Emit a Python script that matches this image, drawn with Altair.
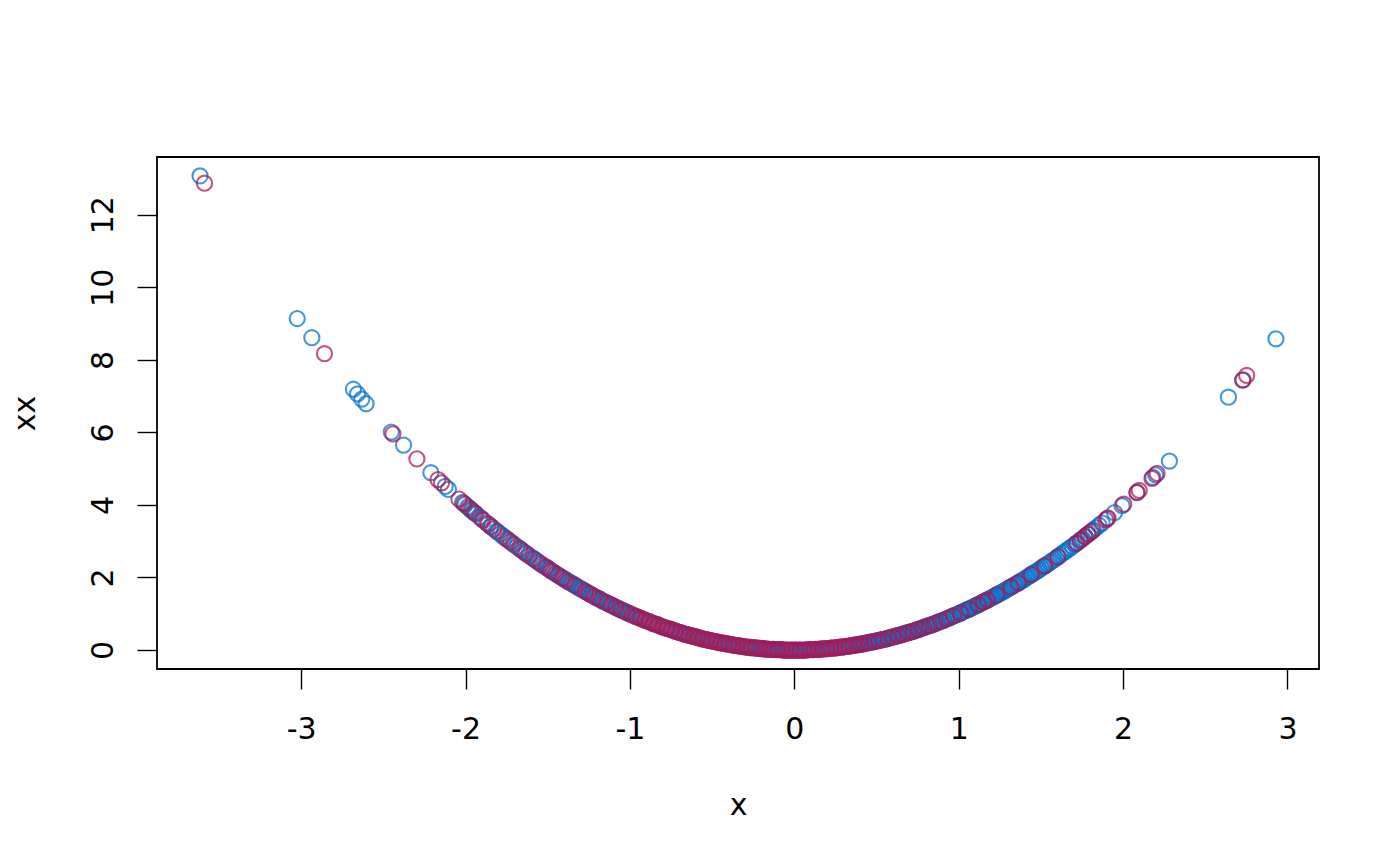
import altair as alt
import pandas as pd

# ---- data ----
blue_x = [-3.615, -3.024, -2.935, -2.682, -2.657, -2.631, -2.605, -2.452, -2.377, -2.211,
          -2.124, -2.104, -2.018, -2.003, -1.987, -1.968, -1.952, -1.936, -1.902, -1.871,
          -1.846, -1.812, -1.789, -1.762, -1.738, -1.712, -1.688, -1.663, -1.641, -1.618,
          -1.594, -1.571, -1.552, -1.528, -1.506, -1.487, -1.466, -1.443, -1.421, -1.402,
          -1.381, -1.362, -1.341, -1.322, -1.303, -1.284, -1.265, -1.246, -1.228, -1.209,
          -1.191, -1.172, -1.154, -1.136, -1.118, -1.099, -1.082, -1.064, -1.046, -1.028,
          -1.011, -0.993, -0.965, -0.938, -0.911, -0.883, -0.856, -0.829, -0.802, -0.775,
          -0.748, -0.721, -0.694, -0.667, -0.640, -0.613, -0.586, -0.559, -0.532, -0.505,
          -0.478, -0.451, -0.424, -0.397, -0.370, -0.343, -0.316, -0.289, -0.262, -0.235,
          -0.208, -0.181, -0.154, -0.127, -0.100, -0.073, -0.046, -0.019, 0.008, 0.035,
          0.062, 0.089, 0.116, 0.143, 0.170, 0.197, 0.224, 0.251, 0.278, 0.305,
          0.332, 0.359, 0.386, 0.413, 0.440, 0.467, 0.494, 0.521, 0.548, 0.575,
          0.602, 0.629, 0.656, 0.683, 0.710, 0.737, 0.764, 0.791, 0.818, 0.845,
          0.872, 0.899, 0.926, 0.953, 0.980, 1.004, 1.024, 1.043, 1.062, 1.081,
          1.100, 1.119, 1.138, 1.157, 1.176, 1.195, 1.214, 1.233, 1.252, 1.272,
          1.292, 1.312, 1.333, 1.354, 1.376, 1.398, 1.421, 1.444, 1.467, 1.491,
          1.515, 1.540, 1.566, 1.592, 1.619, 1.647, 1.676, 1.706, 1.737, 1.769,
          1.802, 1.836, 1.872, 1.905, 1.948, 1.994, 2.084, 2.181, 2.198, 2.282,
          2.641, 2.727, 2.930]
blue_xx = [13.07, 9.14, 8.61, 7.19, 7.06, 6.92, 6.79, 6.01, 5.65, 4.89,
           4.51, 4.43, 4.07, 4.01, 3.95, 3.87, 3.81, 3.75, 3.62, 3.50,
           3.41, 3.28, 3.20, 3.10, 3.02, 2.93, 2.85, 2.77, 2.69, 2.62,
           2.54, 2.47, 2.41, 2.33, 2.27, 2.21, 2.15, 2.08, 2.02, 1.97,
           1.91, 1.86, 1.80, 1.75, 1.70, 1.65, 1.60, 1.55, 1.51, 1.46,
           1.42, 1.37, 1.33, 1.29, 1.25, 1.21, 1.17, 1.13, 1.09, 1.06,
           1.02, 0.99, 0.93, 0.88, 0.83, 0.78, 0.73, 0.69, 0.64, 0.60,
           0.56, 0.52, 0.48, 0.44, 0.41, 0.38, 0.34, 0.31, 0.28, 0.26,
           0.23, 0.20, 0.18, 0.16, 0.14, 0.12, 0.10, 0.08, 0.07, 0.06,
           0.04, 0.03, 0.02, 0.02, 0.01, 0.01, 0.00, 0.00, 0.00, 0.00,
           0.00, 0.01, 0.01, 0.02, 0.03, 0.04, 0.05, 0.06, 0.08, 0.09,
           0.11, 0.13, 0.15, 0.17, 0.19, 0.22, 0.24, 0.27, 0.30, 0.33,
           0.36, 0.40, 0.43, 0.47, 0.50, 0.54, 0.58, 0.63, 0.67, 0.71,
           0.76, 0.81, 0.86, 0.91, 0.96, 1.01, 1.05, 1.09, 1.13, 1.17,
           1.21, 1.25, 1.30, 1.34, 1.38, 1.43, 1.47, 1.52, 1.57, 1.62,
           1.67, 1.72, 1.78, 1.83, 1.89, 1.95, 2.02, 2.09, 2.15, 2.22,
           2.30, 2.37, 2.45, 2.53, 2.62, 2.71, 2.81, 2.91, 3.02, 3.13,
           3.25, 3.37, 3.50, 3.63, 3.79, 3.98, 4.34, 4.76, 4.83, 5.21,
           6.97, 7.44, 8.58]

# further blue points in the crowded right-hand arm
blue_x2 = [0.400, 0.426, 0.453, 0.480, 0.507, 0.534, 0.561, 0.588, 0.615, 0.642,
           0.669, 0.697, 0.724, 0.751, 0.778, 0.805, 0.832, 0.859, 0.886, 0.913,
           0.940, 0.967, 0.992, 1.014, 1.033, 1.052, 1.071, 1.090, 1.109, 1.128,
           1.147, 1.166, 1.185, 1.204, 1.224, 1.243, 1.262, 1.282, 1.302, 1.322,
           1.343, 1.365, 1.387, 1.410, 1.432, 1.455, 1.479, 1.503, 1.528, 1.553,
           1.579, 1.605, 1.633, 1.661, 1.691, 1.721, 1.753, 1.785, 1.819, 1.854]
blue_xx2 = [0.16, 0.18, 0.21, 0.23, 0.26, 0.29, 0.31, 0.35, 0.38, 0.41,
            0.45, 0.49, 0.52, 0.56, 0.61, 0.65, 0.69, 0.74, 0.79, 0.83,
            0.88, 0.94, 0.98, 1.03, 1.07, 1.11, 1.15, 1.19, 1.23, 1.27,
            1.32, 1.36, 1.40, 1.45, 1.50, 1.55, 1.59, 1.64, 1.70, 1.75,
            1.80, 1.86, 1.92, 1.99, 2.05, 2.12, 2.19, 2.26, 2.33, 2.41,
            2.49, 2.58, 2.67, 2.76, 2.86, 2.96, 3.07, 3.19, 3.31, 3.44]

red_x = [-3.588, -2.858, -2.442, -2.296, -2.168, -2.146, -2.040, -2.010, -1.978, -1.944,
         -1.893, -1.862, -1.828, -1.748, -1.726, -1.672, -1.632, -1.583, -1.540, -1.512,
         -1.478, -1.453, -1.412, -1.391, -1.333, -1.271, -1.252, -1.218, -1.182, -1.145,
         -1.112, -1.088, -1.055, -1.021, -0.987, -0.961, -0.934, -0.907, -0.881, -0.854,
         -0.828, -0.801, -0.777, -0.752, -0.728, -0.703, -0.679, -0.655, -0.631, -0.607,
         -0.584, -0.560, -0.537, -0.513, -0.490, -0.467, -0.444, -0.421, -0.398, -0.375,
         -0.352, -0.329, -0.306, -0.283, -0.261, -0.238, -0.215, -0.192, -0.169, -0.146,
         -0.123, -0.102, -0.078, -0.055, -0.032, -0.010, 0.013, 0.036, 0.058, 0.081,
         0.104, 0.127, 0.150, 0.173, 0.196, 0.219, 0.242, 0.265, 0.288, 0.311,
         0.334, 0.357, 0.380, 0.404, 0.428, 0.455, 0.483, 0.512, 0.541, 0.571,
         0.601, 0.632, 0.662, 0.693, 0.724, 0.756, 0.788, 0.821, 0.855, 0.890,
         0.926, 0.967, 1.012, 1.063, 1.118, 1.152, 1.174, 1.231, 1.318, 1.362,
         1.441, 1.522, 1.603, 1.716, 1.742, 1.768, 1.789, 1.812, 1.895, 1.908,
         2.004, 2.085, 2.098, 2.176, 2.207, 2.730, 2.752]
red_xx = [12.87, 8.17, 5.96, 5.27, 4.70, 4.61, 4.16, 4.04, 3.91, 3.78,
          3.58, 3.47, 3.34, 3.06, 2.98, 2.80, 2.66, 2.51, 2.37, 2.29,
          2.18, 2.11, 1.99, 1.93, 1.78, 1.62, 1.57, 1.48, 1.40, 1.31,
          1.24, 1.18, 1.11, 1.04, 0.97, 0.92, 0.87, 0.82, 0.78, 0.73,
          0.69, 0.64, 0.60, 0.57, 0.53, 0.49, 0.46, 0.43, 0.40, 0.37,
          0.34, 0.31, 0.29, 0.26, 0.24, 0.22, 0.20, 0.18, 0.16, 0.14,
          0.12, 0.11, 0.09, 0.08, 0.07, 0.06, 0.05, 0.04, 0.03, 0.02,
          0.02, 0.01, 0.01, 0.00, 0.00, 0.00, 0.00, 0.00, 0.00, 0.01,
          0.01, 0.02, 0.02, 0.03, 0.04, 0.05, 0.06, 0.07, 0.08, 0.10,
          0.11, 0.13, 0.14, 0.16, 0.18, 0.21, 0.23, 0.26, 0.29, 0.33,
          0.36, 0.40, 0.44, 0.48, 0.52, 0.57, 0.62, 0.67, 0.73, 0.79,
          0.86, 0.94, 1.02, 1.13, 1.25, 1.33, 1.38, 1.52, 1.74, 1.85,
          2.08, 2.32, 2.57, 2.94, 3.03, 3.13, 3.20, 3.28, 3.59, 3.64,
          4.02, 4.35, 4.40, 4.73, 4.87, 7.45, 7.57]

# further red points where the band is solid
red_x2 = [-1.962, -1.915, -1.845, -1.805, -1.772, -1.705, -1.652, -1.610, -1.562, -1.495,
          -1.432, -1.372, -1.352, -1.312, -1.292, -1.235, -1.200, -1.164, -1.128, -1.072,
          -1.038, -1.005, -0.974, -0.948, -0.921, -0.894, -0.868, -0.841, -0.815, -0.789,
          -0.765, -0.740, -0.716, -0.691, -0.667, -0.643, -0.619, -0.596, -0.572, -0.549,
          -0.525, -0.502, -0.479, -0.456, -0.433, -0.410, -0.387, -0.364, -0.341, -0.318,
          -0.295, -0.272, -0.250, -0.227, -0.204, -0.181, -0.158, -0.135, -0.112, -0.090,
          -0.067, -0.044, -0.021, 0.002, 0.025, 0.047, 0.070, 0.093, 0.116, 0.139,
          0.162, 0.185, 0.208, 0.231, 0.254, 0.277, 0.300, 0.323, 0.346, 0.369,
          0.392, 0.416, 0.442, 0.469, 0.498, 0.527, 0.556, 0.586, 0.617, 0.647,
          0.678, 0.709, 0.740, 0.772, 0.805, 0.838, 0.872, 0.908, 0.947]
red_xx2 = [3.85, 3.67, 3.40, 3.26, 3.14, 2.91, 2.73, 2.59, 2.44, 2.24,
           2.05, 1.88, 1.83, 1.72, 1.67, 1.53, 1.44, 1.35, 1.27, 1.15,
           1.08, 1.01, 0.95, 0.90, 0.85, 0.80, 0.75, 0.71, 0.66, 0.62,
           0.59, 0.55, 0.51, 0.48, 0.44, 0.41, 0.38, 0.36, 0.33, 0.30,
           0.28, 0.25, 0.23, 0.21, 0.19, 0.17, 0.15, 0.13, 0.12, 0.10,
           0.09, 0.07, 0.06, 0.05, 0.04, 0.03, 0.02, 0.02, 0.01, 0.01,
           0.00, 0.00, 0.00, 0.00, 0.00, 0.00, 0.00, 0.01, 0.01, 0.02,
           0.03, 0.03, 0.04, 0.05, 0.06, 0.08, 0.09, 0.10, 0.12, 0.14,
           0.15, 0.17, 0.20, 0.22, 0.25, 0.28, 0.31, 0.34, 0.38, 0.42,
           0.46, 0.50, 0.55, 0.60, 0.65, 0.70, 0.76, 0.82, 0.90]

x_ticks = [-3, -2, -1, 0, 1, 2, 3]
y_ticks = [0, 2, 4, 6, 8, 10, 12]
groups = ["a", "b"]
colors = ["#0070CC", "#B0144E"]

# drawing order: the extra red points lie underneath the blue ones
df = pd.concat([
    pd.DataFrame({"x": red_x2, "xx": red_xx2, "g": groups[1]}),
    pd.DataFrame({"x": blue_x, "xx": blue_xx, "g": groups[0]}),
    pd.DataFrame({"x": blue_x2, "xx": blue_xx2, "g": groups[0]}),
    pd.DataFrame({"x": red_x, "xx": red_xx, "g": groups[1]}),
], ignore_index=True)

FONT = "DejaVu Sans"
FS = 30

chart = alt.Chart(df).mark_point(
    shape="circle", filled=False, size=230, strokeWidth=2.1, opacity=0.72
).encode(
    x=alt.X("x:Q",
            scale=alt.Scale(domain=[-3.877, 3.192], nice=False, zero=False),
            axis=alt.Axis(values=x_ticks, title="x", grid=False, domain=False,
                          tickSize=20, tickWidth=1.4, tickColor="black",
                          labelExpr="toString(datum.value)",
                          labelFont=FONT, labelFontSize=FS, labelColor="black",
                          labelBaseline="alphabetic", labelPadding=49,
                          labelFlush=False, labelOverlap=False,
                          titleFont=FONT, titleFontSize=FS, titleFontWeight="normal",
                          titleColor="black", titleBaseline="alphabetic", titleY=145)),
    y=alt.Y("xx:Q",
            scale=alt.Scale(domain=[-0.523, 13.593], nice=False, zero=False),
            axis=alt.Axis(values=y_ticks, title="xx", grid=False, domain=False,
                          tickSize=20, tickWidth=1.4, tickColor="black",
                          labelExpr="toString(datum.value)",
                          labelFont=FONT, labelFontSize=FS, labelColor="black",
                          labelAngle=270, labelAlign="center", labelBaseline="alphabetic",
                          labelPadding=25, labelFlush=False, labelOverlap=False,
                          titleFont=FONT, titleFontSize=FS, titleFontWeight="normal",
                          titleColor="black", titleAngle=270, titleAlign="center",
                          titleBaseline="alphabetic", titleX=-123, titleY=256)),
    color=alt.Color("g:N", scale=alt.Scale(domain=groups, range=colors), legend=None),
    order=alt.Order("idx:Q"),
).transform_window(
    idx="row_number()"
).properties(
    width=1162, height=512,
    padding={"left": 157, "top": 157, "right": 81, "bottom": 197},
    autosize=alt.AutoSizeParams(type="none"),
).configure(
    background="white"
).configure_view(
    stroke="black", strokeWidth=1.8
)

chart.save("out.html", embed_options={"renderer": "svg", "actions": False})
